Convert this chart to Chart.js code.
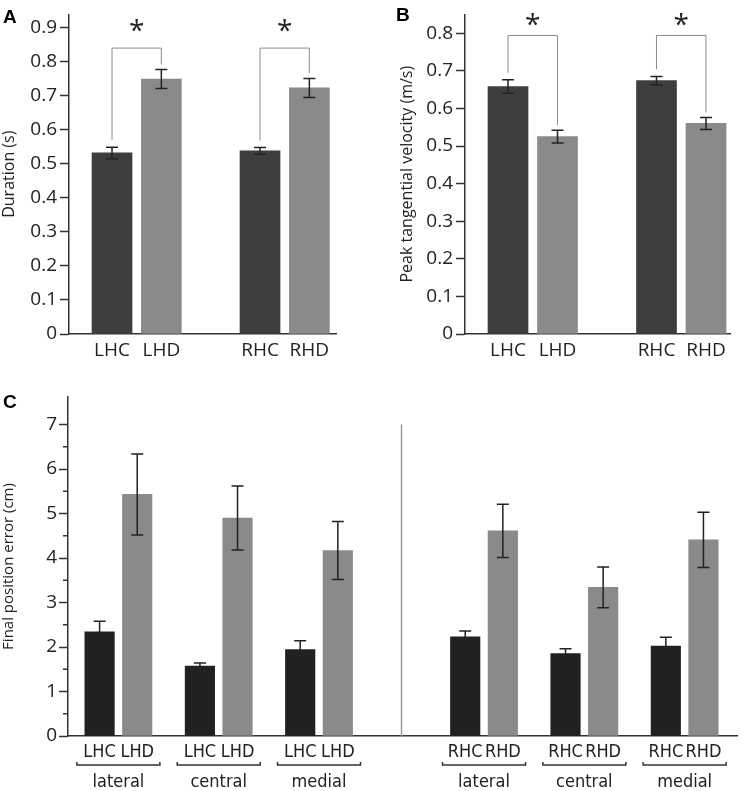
<!DOCTYPE html>
<html>
<head>
<meta charset="utf-8">
<script src="https://cdn.jsdelivr.net/npm/chart.js@4.4.1/dist/chart.umd.min.js"></script>
<style>
  body { margin: 0; background: #fff; }
  #wrap { position: relative; width: 742px; height: 791px; }
  canvas { position: absolute; }
</style>
</head>
<body>
<div id="wrap">
  <canvas id="chartA" width="370" height="370" style="left:0;top:0"></canvas>
  <canvas id="chartB" width="372" height="370" style="left:370px;top:0"></canvas>
  <canvas id="chartC" width="742" height="411" style="left:0;top:380px"></canvas>
</div>
<script>
// ---- data ----
// A and B: four groups, empty slot marks the gap between left and right hemisphere
const groupsAB = ["LHC", "LHD", "", "RHC", "RHD"];

const durationMean = [0.532, 0.749, null, 0.538, 0.723];
const durationSem = [0.017, 0.028, null, 0.010, 0.028];
const durationTicks = [0, 0.1, 0.2, 0.3, 0.4, 0.5, 0.6, 0.7, 0.8, 0.9];

const velocityMean = [0.658, 0.525, null, 0.674, 0.560];
const velocitySem = [0.018, 0.017, null, 0.011, 0.016];
const velocityTicks = [0, 0.1, 0.2, 0.3, 0.4, 0.5, 0.6, 0.7, 0.8];

// significant pairs (index into groupsAB)
const sigPairs = [[0, 1], [3, 4]];

// C: final position error (cm) per target
const targets = ["lateral", "central", "medial"];
const leftLabels = ["LHC", "LHD"];
const rightLabels = ["RHC", "RHD"];
const lhcError = [2.34, 1.57, 1.94];
const lhcSem = [0.24, 0.07, 0.20];
const lhdError = [5.43, 4.90, 4.17];
const lhdSem = [0.91, 0.72, 0.65];
const rhcError = [2.23, 1.85, 2.02];
const rhcSem = [0.13, 0.11, 0.20];
const rhdError = [4.61, 3.34, 4.41];
const rhdSem = [0.60, 0.46, 0.62];
const errorTicks = [0, 1, 2, 3, 4, 5, 6, 7];

// ---- style ----
const FONT = "'Open Sans', 'DejaVu Sans', sans-serif";
const NARROW = "'DejaVu Sans Condensed', 'Liberation Sans Narrow', sans-serif";
const INK = "#222";
const AXIS = "#333";
const DARK_AB = "#3e3e3e";
const DARK_C = "#212121";
const LIGHT = "#8a8a8a";
const BRACKET = "#8c8c8c";

function drawErrorBars(chart) {
  const { ctx } = chart;
  const xs = chart.scales.x, ys = chart.scales.y;
  ctx.save();
  ctx.strokeStyle = INK;
  ctx.lineWidth = 1.5;
  chart.data.datasets.forEach(ds => {
    ds.data.forEach(pt => {
      const px = xs.getPixelForValue(pt.x);
      const top = ys.getPixelForValue(pt.y + pt.err);
      const bot = ys.getPixelForValue(pt.y - pt.err);
      ctx.beginPath();
      ctx.moveTo(px, top); ctx.lineTo(px, bot);
      ctx.moveTo(px - 6, top); ctx.lineTo(px + 6, top);
      ctx.moveTo(px - 6, bot); ctx.lineTo(px + 6, bot);
      ctx.stroke();
    });
  });
  ctx.restore();
}

function drawLetter(ctx, letter, x, y) {
  ctx.save();
  ctx.fillStyle = "#000";
  ctx.font = "bold 19px 'Liberation Sans', Arial, sans-serif";
  ctx.textBaseline = "alphabetic";
  ctx.fillText(letter, x, y);
  ctx.restore();
}

function drawStar(ctx, cx, cy) {
  ctx.save();
  ctx.fillStyle = INK;
  ctx.font = "28px " + FONT;
  ctx.textAlign = "center";
  ctx.textBaseline = "alphabetic";
  const m = ctx.measureText("*");
  ctx.fillText("*", cx, cy + (m.actualBoundingBoxAscent - m.actualBoundingBoxDescent) / 2);
  ctx.restore();
}

// brackets with a star above each significant pair
function drawSig(chart, bracketTop, starY) {
  const { ctx } = chart;
  const xs = chart.scales.x, ys = chart.scales.y;
  const pts = chart.data.datasets[0].data;
  ctx.save();
  ctx.strokeStyle = BRACKET;
  ctx.lineWidth = 1;
  sigPairs.forEach(([a, b]) => {
    const pa = pts.find(p => p.x === a), pb = pts.find(p => p.x === b);
    const xa = xs.getPixelForValue(a), xb = xs.getPixelForValue(b);
    const yt = ys.getPixelForValue(bracketTop);
    ctx.beginPath();
    ctx.moveTo(xa, ys.getPixelForValue(pa.y + pa.err) - 7);
    ctx.lineTo(xa, yt);
    ctx.lineTo(xb, yt);
    ctx.lineTo(xb, ys.getPixelForValue(pb.y + pb.err) - 5);
    ctx.stroke();
    drawStar(ctx, (xa + xb) / 2, ys.getPixelForValue(starY));
  });
  ctx.restore();
}

function barPoints(means, sems) {
  return means.map((v, i) => ({ x: i, y: v, err: sems[i] })).filter(p => p.y !== null);
}

function panelAB(id, means, sems, ticks, cfg) {
  const pts = barPoints(means, sems);
  return new Chart(document.getElementById(id), {
    type: "bar",
    data: {
      datasets: [{
        data: pts,
        backgroundColor: pts.map(p => groupsAB[p.x].endsWith("C") ? DARK_AB : LIGHT),
        borderWidth: 0,
        categoryPercentage: 1,
        barPercentage: 1,
        maxBarThickness: 40
      }]
    },
    options: {
      responsive: false,
      animation: false,
      layout: { padding: { top: cfg.top, right: cfg.right, left: 0, bottom: 0 } },
      plugins: { legend: { display: false }, tooltip: { enabled: false } },
      scales: {
        x: {
          type: "linear",
          offset: false,
          min: cfg.xMin,
          max: cfg.xMax,
          afterBuildTicks: s => { s.ticks = groupsAB.map((g, i) => ({ value: i })).filter(t => groupsAB[t.value]); },
          afterFit: s => { s.height = 36; },
          ticks: { callback: v => groupsAB[v], autoSkip: false, maxRotation: 0, padding: 5, color: INK, font: { family: FONT, size: 19 } },
          grid: { display: false, drawTicks: false, offset: false },
          border: { color: AXIS, width: 1.5 }
        },
        y: {
          min: 0,
          max: cfg.yMax,
          afterBuildTicks: s => { s.ticks = ticks.map(v => ({ value: v })); },
          afterFit: s => { s.width = cfg.axisX; },
          ticks: { callback: v => v === 0 ? "0" : v.toFixed(1), padding: 3, color: INK, font: { family: FONT, size: 19 } },
          grid: { drawOnChartArea: false, drawTicks: true, tickLength: 9, tickColor: AXIS, tickWidth: 1.5 },
          border: { color: AXIS, width: 1.5 },
          title: { display: true, text: cfg.title, color: INK, font: { family: FONT, size: 16 }, padding: { top: cfg.titlePad, bottom: 0 } }
        }
      }
    },
    plugins: [{
      id: "extras",
      afterDatasetsDraw(chart) {
        drawErrorBars(chart);
        drawSig(chart, cfg.bracketTop, cfg.starY);
        drawLetter(chart.ctx, cfg.letter, cfg.letterX, cfg.letterY);
      }
    }]
  });
}

panelAB("chartA", durationMean, durationSem, durationTicks, {
  title: "Duration (s)", letter: "A", letterX: 3, letterY: 23,
  axisX: 69, top: 11, right: 34, yMax: 0.939, xMin: -0.872, xMax: 4.54,
  titlePad: 0, bracketTop: 0.84, starY: 0.905
});

panelAB("chartB", velocityMean, velocitySem, velocityTicks, {
  title: "Peak tangential velocity (m/s)", letter: "B", letterX: 26, letterY: 21,
  axisX: 95, top: 5, right: 12, yMax: 0.85, xMin: -0.869, xMax: 4.485,
  titlePad: 28, bracketTop: 0.794, starY: 0.837
});

// ---- panel C ----
const SIDE_GAP = 0.645;   // extra space between left and right hemisphere groups
const PAIR_OFF = 0.1875;  // half distance between the two bars of a pair
const groupX = (side, g) => side * (3 + SIDE_GAP) + g;

const ctrlPts = [], dmgPts = [], cTicks = [];
[[lhcError, lhcSem, lhdError, lhdSem, leftLabels], [rhcError, rhcSem, rhdError, rhdSem, rightLabels]]
  .forEach(([cm, cs, dm, dsm, labels], side) => {
    targets.forEach((t, g) => {
      const cx = groupX(side, g);
      ctrlPts.push({ x: cx - PAIR_OFF, y: cm[g], err: cs[g] });
      dmgPts.push({ x: cx + PAIR_OFF, y: dm[g], err: dsm[g] });
      cTicks.push({ value: cx - PAIR_OFF, label: labels[0] }, { value: cx + PAIR_OFF, label: labels[1] });
    });
  });

new Chart(document.getElementById("chartC"), {
  type: "bar",
  data: {
    datasets: [
      { data: ctrlPts, backgroundColor: DARK_C, borderWidth: 0, categoryPercentage: 1, barPercentage: 1, maxBarThickness: 29.5, grouped: false },
      { data: dmgPts, backgroundColor: LIGHT, borderWidth: 0, categoryPercentage: 1, barPercentage: 1, maxBarThickness: 29.5, grouped: false }
    ]
  },
  options: {
    responsive: false,
    animation: false,
    layout: { padding: { top: 17, right: 5, left: 0, bottom: 0 } },
    plugins: { legend: { display: false }, tooltip: { enabled: false } },
    scales: {
      x: {
        type: "linear",
        offset: false,
        min: -0.5025,
        max: 6.167,
        afterBuildTicks: s => { s.ticks = cTicks.map(t => ({ value: t.value })); },
        afterFit: s => { s.height = 55; },
        ticks: { callback: (v, i) => cTicks[i].label, autoSkip: false, maxRotation: 0, padding: 6, color: INK, font: { family: NARROW, size: 18 } },
        grid: { display: false, drawTicks: false, offset: false },
        border: { color: AXIS, width: 1.5 }
      },
      y: {
        min: 0,
        max: 7.62,
        afterBuildTicks: s => { s.ticks = errorTicks.map(v => ({ value: v })); },
        afterFit: s => { s.width = 68; },
        ticks: { padding: 2, color: INK, font: { family: FONT, size: 19 } },
        grid: { drawOnChartArea: false, drawTicks: true, tickLength: 9, tickColor: AXIS, tickWidth: 1.5 },
        border: { color: AXIS, width: 1.5 },
        title: { display: true, text: "Final position error (cm)", color: INK, font: { family: FONT, size: 15 }, padding: { top: 0, bottom: 0 } }
      }
    }
  },
  plugins: [{
    id: "extrasC",
    beforeDatasetsDraw(chart) {
      const { ctx, chartArea } = chart;
      const xs = chart.scales.x, ys = chart.scales.y;
      // divider between hemispheres
      const xd = xs.getPixelForValue((groupX(0, 2) + groupX(1, 0)) / 2);
      ctx.save();
      ctx.strokeStyle = "#9a9a9a";
      ctx.lineWidth = 1.5;
      ctx.beginPath();
      ctx.moveTo(xd, ys.getPixelForValue(7));
      ctx.lineTo(xd, chartArea.bottom);
      ctx.stroke();
      ctx.restore();
    },
    afterDatasetsDraw(chart) {
      const { ctx, chartArea } = chart;
      const xs = chart.scales.x, ys = chart.scales.y;
      drawErrorBars(chart);
      ctx.save();
      // minor ticks
      ctx.strokeStyle = AXIS;
      ctx.lineWidth = 1.5;
      ctx.beginPath();
      for (let v = 0.5; v < 7; v += 1) {
        const py = ys.getPixelForValue(v);
        ctx.moveTo(chartArea.left - 5, py);
        ctx.lineTo(chartArea.left, py);
      }
      ctx.stroke();
      // group brackets and target names
      const yb = chartArea.bottom + 29;
      ctx.fillStyle = INK;
      ctx.font = "18px " + NARROW;
      ctx.textAlign = "center";
      ctx.textBaseline = "middle";
      [0, 1].forEach(side => {
        targets.forEach((t, g) => {
          const cx = xs.getPixelForValue(groupX(side, g));
          ctx.beginPath();
          ctx.moveTo(cx - 41.5, yb - 3);
          ctx.lineTo(cx - 41.5, yb);
          ctx.lineTo(cx + 41.5, yb);
          ctx.lineTo(cx + 41.5, yb - 3);
          ctx.stroke();
          ctx.fillText(t, cx, chartArea.bottom + 46);
        });
      });
      ctx.restore();
      drawLetter(ctx, "C", 3, 28);
    }
  }]
});
</script>
</body>
</html>
